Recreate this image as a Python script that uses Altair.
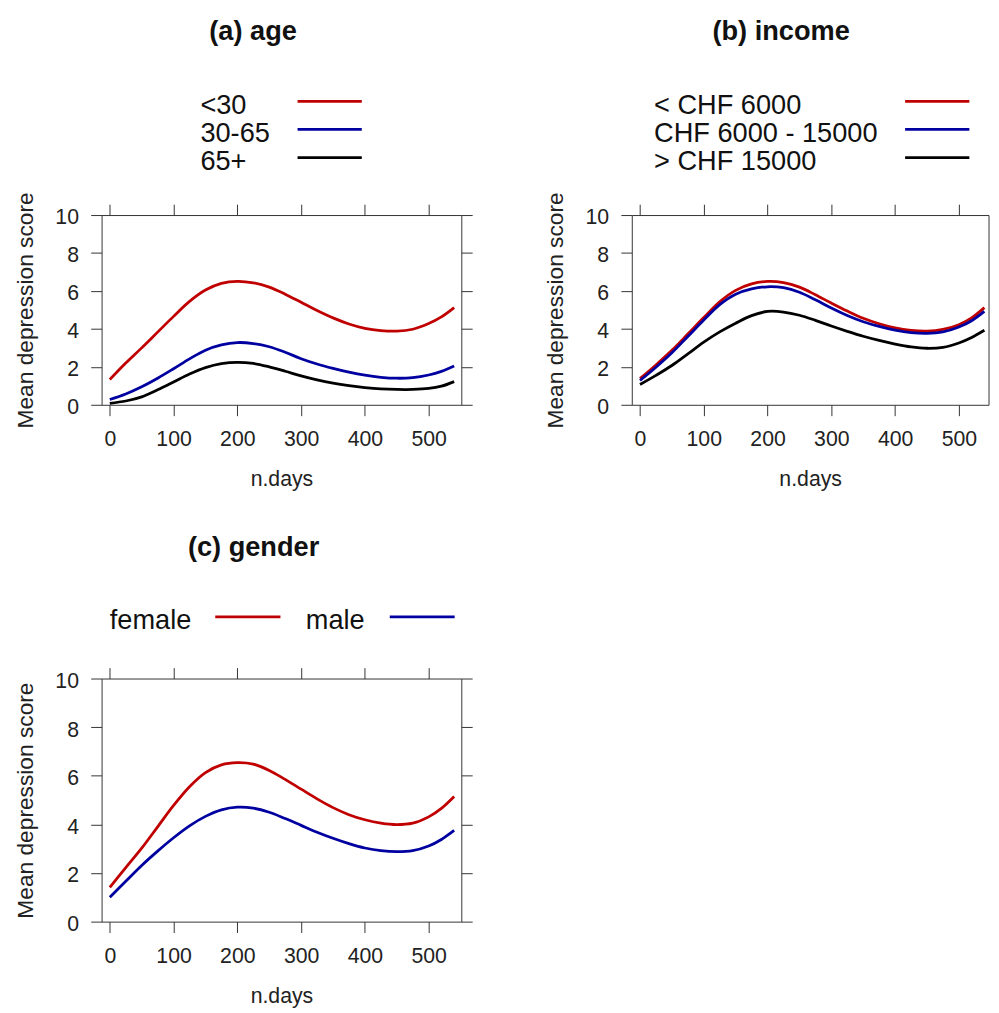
import altair as alt
import pandas as pd

# ---------------- data ----------------
days = [0, 25, 50, 75, 100, 125, 150, 175, 200, 225, 250, 275, 300,
        325, 350, 375, 400, 425, 450, 475, 500, 520, 540]

age_labels = ["<30", "30-65", "65+"]
age_lt30 = [1.33, 2.20, 3.00, 3.83, 4.66, 5.45, 6.05, 6.40, 6.51, 6.43, 6.20, 5.83, 5.40,
            4.97, 4.58, 4.26, 4.03, 3.91, 3.88, 3.98, 4.28, 4.63, 5.12]
age_30_65 = [0.28, 0.57, 0.95, 1.40, 1.90, 2.42, 2.88, 3.16, 3.28, 3.23, 3.06, 2.77, 2.43,
             2.15, 1.92, 1.72, 1.56, 1.45, 1.40, 1.43, 1.57, 1.76, 2.04]
age_65p = [0.08, 0.20, 0.42, 0.79, 1.20, 1.62, 1.96, 2.17, 2.24, 2.18, 2.00, 1.77, 1.52,
           1.31, 1.14, 1.01, 0.91, 0.84, 0.81, 0.81, 0.86, 0.98, 1.22]

income_labels = ["< CHF 6000", "CHF 6000 - 15000", "> CHF 15000"]
inc_low = [1.38, 2.10, 2.87, 3.73, 4.60, 5.43, 6.03, 6.37, 6.50, 6.44, 6.20, 5.80, 5.36,
           4.94, 4.56, 4.27, 4.05, 3.92, 3.88, 3.97, 4.22, 4.58, 5.12]
inc_mid = [1.28, 1.98, 2.74, 3.60, 4.47, 5.28, 5.83, 6.11, 6.22, 6.17, 5.93, 5.53, 5.10,
           4.71, 4.38, 4.13, 3.93, 3.80, 3.76, 3.84, 4.10, 4.43, 4.92]
inc_high = [1.07, 1.55, 2.07, 2.68, 3.30, 3.84, 4.30, 4.70, 4.92, 4.89, 4.72, 4.45, 4.15,
            3.87, 3.61, 3.39, 3.20, 3.05, 2.98, 3.03, 3.26, 3.55, 3.93]

gender_labels = ["female", "male"]
gen_female = [1.41, 2.22, 3.02, 3.90, 4.78, 5.55, 6.13, 6.45, 6.54, 6.48, 6.22, 5.85, 5.45,
              5.05, 4.69, 4.40, 4.19, 4.05, 3.99, 4.05, 4.31, 4.66, 5.15]
gen_male = [1.00, 1.66, 2.31, 2.90, 3.45, 3.94, 4.33, 4.60, 4.71, 4.67, 4.50, 4.24, 3.96,
            3.68, 3.43, 3.21, 3.03, 2.92, 2.88, 2.92, 3.11, 3.38, 3.75]

panel_titles = ["(a) age", "(b) income", "(c) gender"]
x_ticks = [0, 100, 200, 300, 400, 500]
y_ticks = [0, 2, 4, 6, 8, 10]
x_title = "n.days"
y_title = "Mean depression score"

# ---------------- style ----------------
FONT = "Liberation Sans"
RED, BLUE, BLACK = "#C00000", "#0000A0", "#000000"
INK = "#222222"
LINE_W = 2.8
LEG_FS = 27.5
TITLE_FS = 27.5
X_MIN = -12.9


def long_df(labels, series):
    rows = []
    for lab, vals in zip(labels, series):
        for d, v in zip(days, vals):
            rows.append({"day": d, "value": v, "group": lab})
    return pd.DataFrame(rows)


def text_mark(label, x, y, size, weight="normal", align="left"):
    return alt.Chart(pd.DataFrame({"label": [label]})).mark_text(
        font=FONT, fontSize=size, fontWeight=weight, align=align,
        baseline="alphabetic", color="#111111"
    ).encode(text="label:N", x=alt.value(x), y=alt.value(y))


def key_line(x1, x2, y, color):
    return alt.Chart(pd.DataFrame({"k": [0]})).mark_rule(
        color=color, strokeWidth=LINE_W
    ).encode(x=alt.value(x1), x2=alt.value(x2), y=alt.value(y))


def make_panel(title, labels, series, colors, width, height, xmax,
               title_x, title_y, legend_layers, right_axis=True):
    df = long_df(labels, series)
    xs = alt.Scale(domain=[X_MIN, xmax], nice=False, zero=False)
    ys = alt.Scale(domain=[0, 10], nice=False, zero=False)
    lines = alt.Chart(df).mark_line(strokeWidth=LINE_W, interpolate="catmull-rom").encode(
        x=alt.X("day:Q", scale=xs, axis=alt.Axis(
            orient="bottom", values=x_ticks, title=x_title, labelPadding=13.7,
            labelFlush=False, labelOverlap=False,
            titleX=width / 2, titleY=82, titleBaseline="alphabetic",
            titleAlign="center", titleFontSize=21.5)),
        y=alt.Y("value:Q", scale=ys, axis=alt.Axis(
            orient="left", values=y_ticks, title=y_title, labelPadding=12.4,
            labelOffset=3, labelOverlap=False, labelFlush=False,
            titleX=-70, titleY=height / 2, titleAngle=270,
            titleBaseline="alphabetic", titleAlign="center", titleFontSize=23)),
        color=alt.Color("group:N", scale=alt.Scale(domain=labels, range=colors), legend=None),
        detail="group:N",
    )
    frame = alt.Chart(df).mark_line(opacity=0).encode(
        x=alt.X("day:Q", scale=xs, axis=alt.Axis(
            orient="top", values=x_ticks, labels=False, title=None)),
        y=alt.Y("value:Q", scale=ys, axis=(alt.Axis(
            orient="right", values=y_ticks, labels=False, title=None)
            if right_axis else None)),
    )
    ttl = text_mark(title, title_x, title_y, TITLE_FS, weight="bold", align="center")
    return alt.layer(lines, frame, ttl, *legend_layers).resolve_axis(
        x="independent", y="independent"
    ).properties(width=width, height=height)


# ----- panel (a) -----
leg_a = []
for i, (lab, col) in enumerate(zip(age_labels, [RED, BLUE, BLACK])):
    leg_a.append(text_mark(lab, 100, -102.7 + 28.4 * i, LEG_FS))
    leg_a.append(key_line(198.3, 263.3, -115 + 28.4 * i, col))
panel_a = make_panel(panel_titles[0], age_labels, [age_lt30, age_30_65, age_65p],
                     [RED, BLUE, BLACK], 364, 192, 551.2, 153.3, -177.5, leg_a)

# ----- panel (b) -----
leg_b = []
for i, (lab, col) in enumerate(zip(income_labels, [RED, BLUE, BLACK])):
    leg_b.append(text_mark(lab, 22.6, -102.7 + 28.4 * i, LEG_FS))
    leg_b.append(key_line(276.6, 341.6, -115 + 28.4 * i, col))
panel_b = make_panel(panel_titles[1], income_labels, [inc_low, inc_mid, inc_high],
                     [RED, BLUE, BLACK], 361, 192, 546.5, 151.1, -177.5, leg_b,
                     right_axis=False)

# ----- panel (c) -----
leg_c = [
    text_mark(gender_labels[0], 8.3, -50, LEG_FS),
    key_line(115, 181, -62.3, RED),
    text_mark(gender_labels[1], 206.6, -50, LEG_FS),
    key_line(291.6, 357.3, -62.3, BLUE),
]
panel_c = make_panel(panel_titles[2], gender_labels, [gen_female, gen_male],
                     [RED, BLUE], 364, 246, 551.2, 153.8, -124, leg_c)

chart = alt.concat(
    panel_a, panel_b, panel_c, columns=2, align="each",
    spacing=alt.RowColnumber(row=43, column=71.5),
).properties(
    padding={"left": 5.7, "top": 3.5, "right": 0, "bottom": 5}
).configure_view(
    stroke="#333333", strokeWidth=1
).configure_axis(
    grid=False, domain=False, tickColor="#333333", tickSize=11, tickWidth=1,
    labelFont=FONT, labelFontSize=21.5, labelColor=INK,
    titleFont=FONT, titleFontWeight="normal", titleColor=INK,
)

chart.save("out.html", embed_options={"renderer": "svg", "actions": False})
